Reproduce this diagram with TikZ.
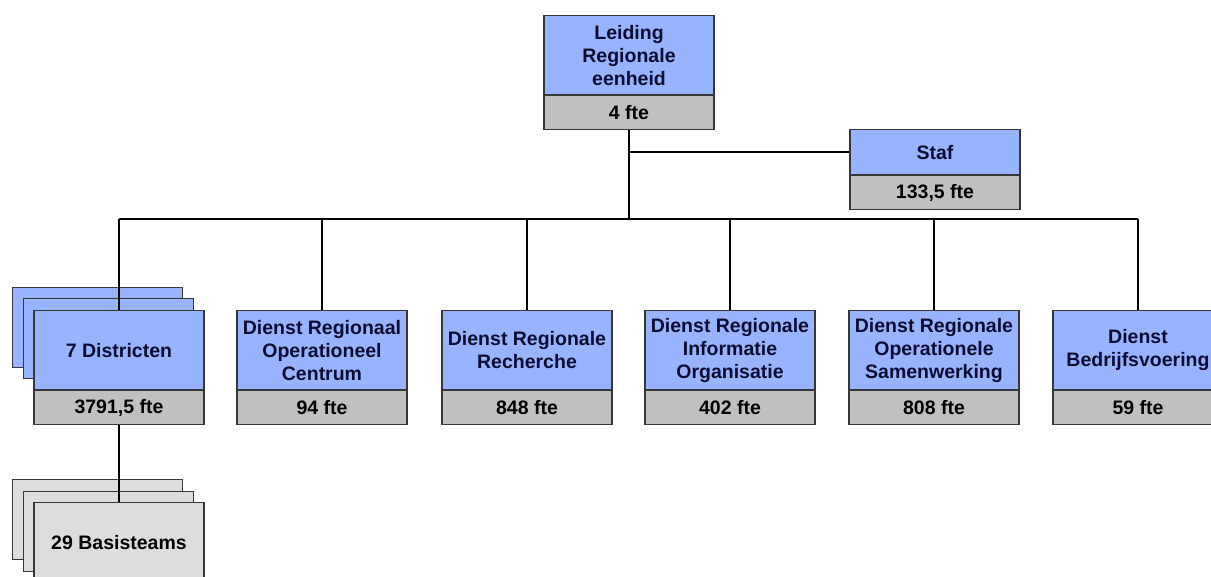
\documentclass[tikz,border=0pt]{standalone}
\usepackage{fontspec}
\setmainfont{Liberation Sans}
\definecolor{blueF}{RGB}{153,180,255}
\definecolor{greyF}{RGB}{192,192,192}
\definecolor{lgreyF}{RGB}{221,221,221}
\definecolor{bordc}{RGB}{55,55,55}
\definecolor{navy}{RGB}{12,12,50}
\begin{document}
\begin{tikzpicture}[x=1pt,y=-1pt,
  boxfont/.style={font=\bfseries\fontsize{19.5}{23}\selectfont},
  headbox/.style={draw=bordc, line width=1.2pt, fill=blueF, text=navy, minimum width=170pt, minimum height=79pt, inner sep=0pt, align=center, boxfont, anchor=north},
  ftebox/.style={draw=bordc, line width=1.2pt, fill=greyF, text=black, minimum width=170pt, minimum height=34pt, inner sep=0pt, boxfont, anchor=north},
  backblue/.style={draw=bordc, line width=1.2pt, fill=blueF, minimum width=170pt, minimum height=80pt, inner sep=0pt, anchor=north west},
  backgrey/.style={draw=bordc, line width=1.2pt, fill=lgreyF, minimum width=170pt, minimum height=80pt, inner sep=0pt, anchor=north west},
  conn/.style={line width=2pt, black}]
\clip (0,0) rectangle (1211,577);
\fill[white] (0,0) rectangle (1211,577);
% top
\node[headbox] (top) at (629,15) {Leiding\\Regionale\\eenheid};
\node[ftebox] (topf) at (top.south) {4 fte};
% staf
\node[headbox, minimum height=45pt] (staf) at (935,129) {Staf};
\node[ftebox] (staff) at (staf.south) {133,5 fte};
% districts stack
\node[backblue] (db1) at (12,287) {};
\node[backblue] (db2) at (23,298) {};
\node[headbox] (d1) at (119,310) {7 Districten};
\node[ftebox] (d1f) at (d1.south) {3791,5 fte};
% other units
\node[headbox] (d2) at (322,310) {Dienst Regionaal\\Operationeel\\Centrum};
\node[ftebox] (d2f) at (d2.south) {94 fte};
\node[headbox] (d3) at (527,310) {Dienst Regionale\\Recherche};
\node[ftebox] (d3f) at (d3.south) {848 fte};
\node[headbox] (d4) at (730,310) {Dienst Regionale\\Informatie\\Organisatie};
\node[ftebox] (d4f) at (d4.south) {402 fte};
\node[headbox] (d5) at (934,310) {Dienst Regionale\\Operationele\\Samenwerking};
\node[ftebox] (d5f) at (d5.south) {808 fte};
\node[headbox] (d6) at (1138,310) {Dienst\\Bedrijfsvoering};
\node[ftebox] (d6f) at (d6.south) {59 fte};
% basisteams stack
\node[backgrey] (bb1) at (12,479) {};
\node[backgrey] (bb2) at (23,491) {};
\node[backgrey, text=black, boxfont, anchor=north, minimum height=80pt] (bt) at (119,502) {29 Basisteams};
% connectors
\coordinate (bus) at (629,219);
\draw[conn] (topf.south) -- (bus);
\draw[conn] (topf.south |- staf.west) -- (staf.west);
\draw[conn] (d1.north |- bus) -- (d6.north |- bus);
\foreach \n in {d1,d2,d3,d4,d5,d6}{
  \draw[conn] (\n.north |- bus) -- (\n.north);
}
\draw[conn] (d1f.south) -- (bt.north);
\end{tikzpicture}
\end{document}
